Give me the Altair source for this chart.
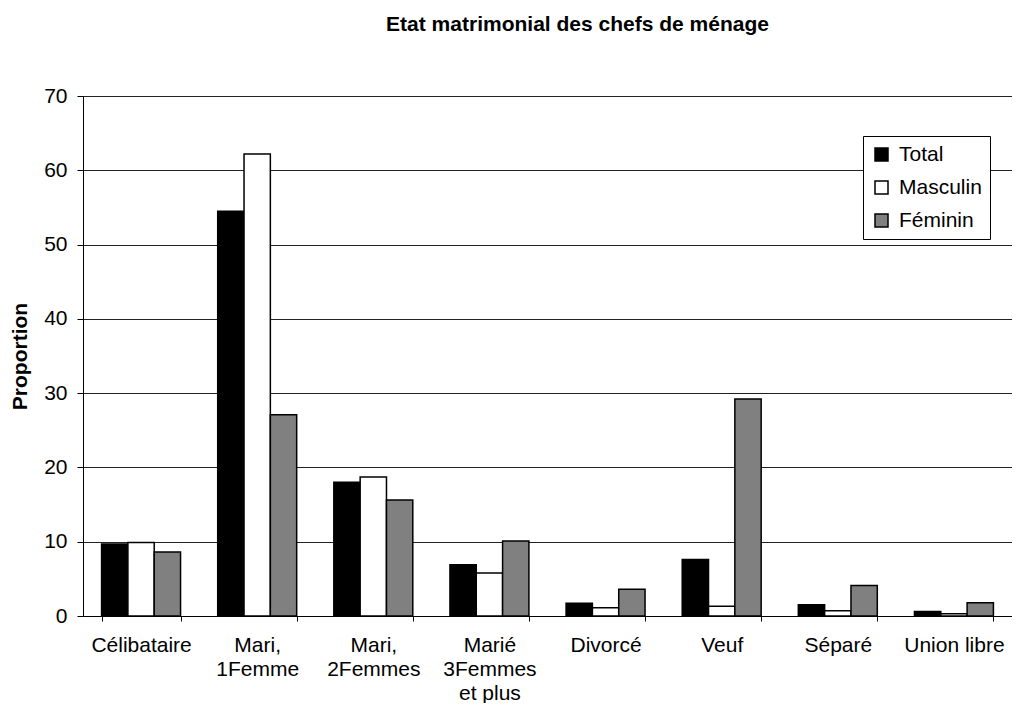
import altair as alt
import pandas as pd

categories = ["Célibataire", "Mari,\n1Femme", "Mari,\n2Femmes", "Marié\n3Femmes\net plus",
              "Divorcé", "Veuf", "Séparé", "Union libre"]
series = ["Total", "Masculin", "Féminin"]
total = [9.7, 54.5, 18.0, 6.9, 1.7, 7.6, 1.5, 0.6]
masculin = [9.9, 62.2, 18.7, 5.8, 1.1, 1.3, 0.7, 0.3]
feminin = [8.6, 27.1, 15.6, 10.1, 3.6, 29.2, 4.1, 1.8]
colors = ["#000000", "#ffffff", "#808080"]
y_ticks = [0, 10, 20, 30, 40, 50, 60, 70]

rows = []
for s, vals in zip(series, [total, masculin, feminin]):
    for c, v in zip(categories, vals):
        rows.append({"cat": c, "serie": s, "val": v})
df = pd.DataFrame(rows)

FONT = "Liberation Sans"

chart = alt.Chart(df).mark_bar(stroke="black", strokeWidth=1.5).encode(
    x=alt.X("cat:N", sort=categories, title=None,
            scale=alt.Scale(paddingInner=0.32, paddingOuter=0.16),
            axis=alt.Axis(labelAngle=0, tickBand="extent", tickSize=5, tickColor="black",
                          domainColor="black", labelFontSize=21, labelFont=FONT,
                          labelColor="black", labelPadding=13, labelBaseline="top",
                          labelLineHeight=24, labelExpr="split(datum.label, '\\n')",
                          grid=False)),
    xOffset=alt.XOffset("serie:N", sort=series, scale=alt.Scale(paddingInner=0, paddingOuter=0)),
    y=alt.Y("val:Q", title="Proportion",
            scale=alt.Scale(domain=[0, 70], nice=False),
            axis=alt.Axis(values=y_ticks, tickSize=6, tickColor="black", domainColor="black",
                          labelFontSize=21, labelFont=FONT, labelColor="black", labelPadding=10,
                          gridColor="#222222", gridWidth=1,
                          titleFont=FONT, titleFontSize=21, titleFontWeight="bold",
                          titleColor="black", titleAngle=270, titleX=-63, titleY=260,
                          titleAlign="center", titleBaseline="middle")),
    color=alt.Color("serie:N", sort=series,
                    scale=alt.Scale(domain=series, range=colors),
                    legend=alt.Legend(title=None, orient="none", legendX=780, legendY=40,
                                      symbolType="square", symbolSize=169,
                                      symbolStrokeColor="black", symbolStrokeWidth=1.5,
                                      labelFont=FONT, labelFontSize=21, labelColor="black",
                                      labelOffset=7, rowPadding=11, padding=8,
                                      strokeColor="black", fillColor="white")),
).properties(
    width=929,
    height=520,
    title=alt.TitleParams("Etat matrimonial des chefs de ménage", font=FONT, fontSize=21,
                          fontWeight="bold", color="black", anchor="middle", dx=30,
                          offset=33, baseline="alphabetic"),
    autosize=alt.AutoSizeParams(type="none"),
    padding={"left": 75, "top": 88, "right": 0, "bottom": 87},
).configure_view(strokeWidth=0)

chart.save("out.html", embed_options={"renderer": "svg", "actions": False})
